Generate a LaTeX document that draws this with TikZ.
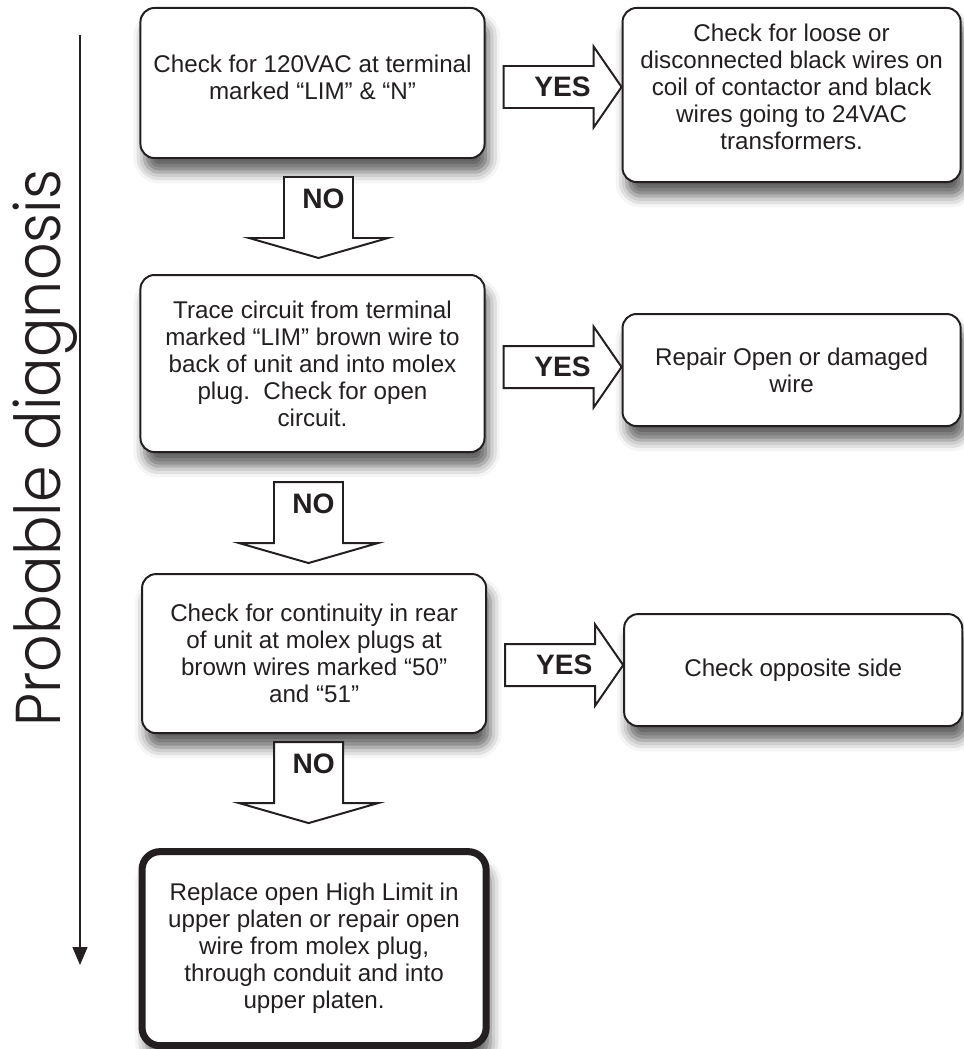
\documentclass[tikz,border=0pt]{standalone}
\usepackage{fontspec}
\setmainfont{Liberation Sans}
\IfFontExistsTF{Poppins Light}
  {\newfontfamily\diagfamily{Poppins Light}}
  {\newfontfamily\diagfamily{Poppins}}
\usepackage{graphicx}
\usepackage{tikz}
\usetikzlibrary{arrows.meta, positioning, calc, shadows.blur}
\usepackage{xcolor}
\definecolor{inkgray}{HTML}{231F20}
\newcommand{\diagfont}{\diagfamily\fontsize{41.7}{46}\selectfont}
\tikzset{
  qbox/.style={
    rectangle, rounded corners=0.35cm, draw=inkgray, line width=1.4pt,
    fill=white, text=inkgray, align=center, minimum width=8.6cm,
    font=\fontsize{17.2}{19.2}\selectfont,
    blur shadow={shadow xshift=3pt, shadow yshift=-10pt,
                 shadow blur radius=8pt, shadow opacity=62}
  },
  abox/.style={qbox, minimum width=8.45cm, minimum height=2.8cm},
  endbox/.style={qbox, line width=5pt, rounded corners=0.45cm},
  fatarrow/.style={draw=inkgray, fill=white, line width=1.4pt},
  lbl/.style={font=\fontsize{20}{22}\selectfont\bfseries,
              text=inkgray, inner sep=0pt},
  timeline/.style={-{Triangle[length=12.8pt, width=10.7pt]},
                   draw=inkgray, line width=0.8pt},
  diag/.style={rotate=90, anchor=base, text=inkgray, inner sep=0pt}
}

\begin{document}
\begin{tikzpicture}[x=0.025cm, y=-0.025cm]
  \useasboundingbox (0,0) rectangle (963,1049);

  % side axis
  \coordinate (axtop) at (80,35);
  \coordinate (axbot) at (80,965);
  \draw[timeline] (axtop) -- (axbot);
  \node[diag] (probdiag) at (60,448.5)
    {\scalebox{1}[1.08]{\diagfont Probable diagnosis}};

  % main column
  \node[qbox, minimum height=3.75cm, text depth=0.3cm] (chk) at (312.5,83)
    {Check for 120VAC at terminal\\
     marked “LIM” \& “N”};
  \node[qbox, minimum height=4.425cm, below=2.875cm of chk] (trace)
    {Trace circuit from terminal\\
     marked “LIM” brown wire to\\
     back of unit and into molex\\
     plug.\ \ Check for open\\
     circuit.};
  \node[qbox, minimum height=3.975cm, below=3.0cm of trace,
        xshift=0.04cm] (cont)
    {Check for continuity in rear\\
     of unit at molex plugs at\\
     brown wires marked “50”\\
     and “51”};
  \node[endbox, minimum height=4.85cm, below=2.85cm of cont] (repl)
    {Replace open High Limit in\\
     upper platen or repair open\\
     wire from molex plug,\\
     through conduit and into\\
     upper platen.};

  % right column
  \node[abox, minimum height=4.35cm, text depth=0.4cm,
        right=3.4cm of chk.north east, anchor=north west] (fix)
    {Check for loose or\\
     disconnected black wires on\\
     coil of contactor and black\\
     wires going to 24VAC\\
     transformers.};
  \node[abox, right=3.4cm of trace, yshift=-0.1625cm] (repair)
    {Repair Open or damaged\\
     wire};
  \node[abox, right=3.4cm of cont, yshift=-0.4125cm] (opp)
    {Check opposite side};

  % YES arrows
  \coordinate (t1) at ($(fix.west)+(0,-8)$);
  \draw[fatarrow] (t1) -- ++(-28,-40.5) -- ++(0,19.5) -- ++(-90,0)
    -- ++(0,42) -- ++(90,0) -- ++(0,19.5) -- cycle;
  \node[lbl] (yes1) at ($(t1)+(-59,0)$) {YES};

  \coordinate (t2) at ($(repair.west)+(0,-3)$);
  \draw[fatarrow] (t2) -- ++(-28,-40.5) -- ++(0,19.5) -- ++(-90,0)
    -- ++(0,42) -- ++(90,0) -- ++(0,19.5) -- cycle;
  \node[lbl] (yes2) at ($(t2)+(-59,0)$) {YES};

  \coordinate (t3) at ($(opp.west)+(0,-5)$);
  \draw[fatarrow] (t3) -- ++(-28,-40.5) -- ++(0,19.5) -- ++(-90,0)
    -- ++(0,42) -- ++(90,0) -- ++(0,19.5) -- cycle;
  \node[lbl] (yes3) at ($(t3)+(-59,0)$) {YES};

  % NO arrows
  \coordinate (n1) at ($(chk.south)+(6,18)$);
  \draw[fatarrow] (n1) ++(-34.5,0) -- ++(69,0) -- ++(0,61) -- ++(35,0)
    -- ++(-69.5,20) -- ++(-69.5,-20) -- ++(35,0) -- cycle;
  \node[lbl] (no1) at ($(n1)+(5,22)$) {NO};

  \coordinate (n2) at ($(trace.south)+(-4,29)$);
  \draw[fatarrow] (n2) ++(-34.5,0) -- ++(69,0) -- ++(0,61) -- ++(35,0)
    -- ++(-69.5,20) -- ++(-69.5,-20) -- ++(35,0) -- cycle;
  \node[lbl] (no2) at ($(n2)+(5,22)$) {NO};

  \coordinate (n3) at ($(cont.south)+(-5.5,8)$);
  \draw[fatarrow] (n3) ++(-34.5,0) -- ++(69,0) -- ++(0,61) -- ++(35,0)
    -- ++(-69.5,20) -- ++(-69.5,-20) -- ++(35,0) -- cycle;
  \node[lbl] (no3) at ($(n3)+(5,22)$) {NO};
\end{tikzpicture}
\end{document}
